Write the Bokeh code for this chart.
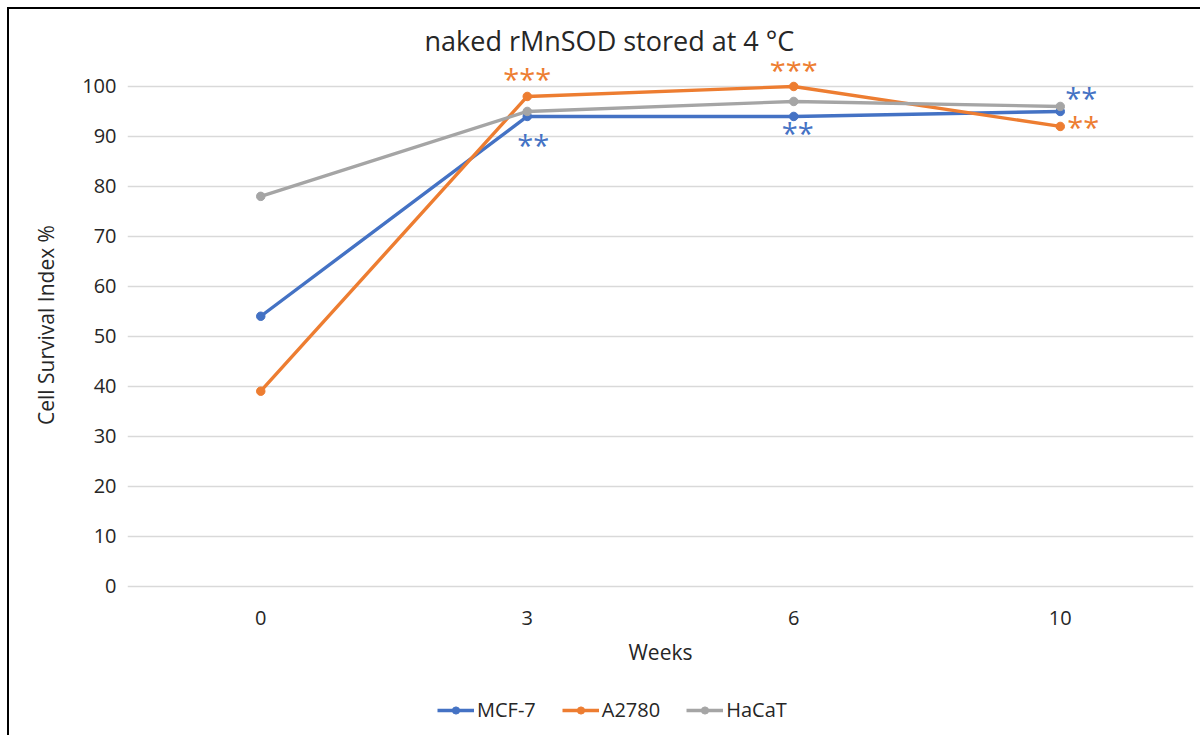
from bokeh.plotting import figure
from bokeh.layouts import column
from bokeh.models import (ColumnDataSource, FactorRange, Range1d, FixedTicker, Legend,
                          LegendItem)
from bokeh.core.properties import value
from bokeh.embed import file_html
from bokeh.resources import INLINE

weeks = ["0", "3", "6", "10"]
mcf7 = [54, 94, 94, 95]
a2780 = [39, 98, 100, 92]
hacat = [78, 95, 97, 96]
series_names = ["MCF-7", "A2780", "HaCaT"]
colors = ["#4472C4", "#ED7D31", "#A5A5A5"]

# significance marks: (week, series index, text)
sig_week = ["3", "6", "3", "6", "10", "10"]
sig_series = [1, 1, 0, 0, 0, 1]
sig_text = ["***", "***", "**", "**", "**", "**"]
y_ticks = [0, 10, 20, 30, 40, 50, 60, 70, 80, 90, 100]

FONT = "Open Sans"
TXT = "#262626"
LW = 3.4
MS = 8.5

p = figure(width=1200, height=690, x_range=FactorRange(*weeks, range_padding=0),
           y_range=Range1d(-0.5, 105), output_backend="svg", toolbar_location=None,
           min_border_left=127, min_border_right=7, min_border_top=61, min_border_bottom=102)
p.outline_line_color = None
p.background_fill_color = "white"
p.border_fill_color = None

p.title.text = "naked rMnSOD stored at 4 \u00b0C"
p.title.align = "left"
p.title.offset = 297
p.title.standoff = 6
p.title.text_font = FONT
p.title.text_font_size = "27px"
p.title.text_font_style = "normal"
p.title.text_color = TXT

p.yaxis.ticker = FixedTicker(ticks=y_ticks)
p.ygrid.ticker = FixedTicker(ticks=y_ticks)
p.ygrid.grid_line_color = "#D9D9D9"
p.ygrid.grid_line_width = 1.5
p.xgrid.grid_line_color = None

for ax in (p.xaxis, p.yaxis):
    ax.axis_line_color = None
    ax.major_tick_line_color = None
    ax.minor_tick_line_color = None
    ax.major_tick_out = 0
    ax.major_tick_in = 0
    ax.minor_tick_out = 0
    ax.major_label_text_font = FONT
    ax.major_label_text_font_size = "20px"
    ax.major_label_text_color = TXT
    ax.axis_label_text_font = FONT
    ax.axis_label_text_font_style = "normal"
    ax.axis_label_text_color = TXT

p.yaxis.axis_label = "Cell Survival Index %"
p.yaxis.axis_label_text_font_size = "21px"
p.yaxis.major_label_standoff = 11
p.yaxis.axis_label_standoff = 19
p.xaxis.axis_label = "Weeks"
p.xaxis.axis_label_text_font_size = "21px"
p.xaxis.major_label_standoff = 22
p.xaxis.axis_label_standoff = 10

all_vals = [mcf7, a2780, hacat]
for vals, c in zip(all_vals, colors):
    src = ColumnDataSource(dict(x=weeks, y=vals))
    p.line("x", "y", source=src, line_color=c, line_width=LW)
    p.scatter("x", "y", source=src, size=MS, fill_color=c, line_color=c)

# significance asterisks anchored to their data points
offsets = [(0, -18), (0, -17), (6, 28), (4, 16), (21, -14), (23, 0)]
for wk, si, t, (dx, dy) in zip(sig_week, sig_series, sig_text, offsets):
    yv = all_vals[si][weeks.index(wk)]
    p.text(x=[wk], y=[yv], text=[t], x_offset=dx, y_offset=dy,
           text_color=colors[si], text_font=value(FONT), text_font_size="29px",
           text_align="center", text_baseline="middle")

# legend strip below the chart (its series lie outside its visible range)
lg = figure(width=1200, height=45, x_range=FactorRange(*weeks), y_range=Range1d(200, 201),
            output_backend="svg", toolbar_location=None, x_axis_type=None, y_axis_type=None,
            min_border=0, min_border_left=0, min_border_right=0,
            min_border_top=0, min_border_bottom=0)
lg.outline_line_color = None
lg.background_fill_color = None
lg.border_fill_color = None
lg.xgrid.grid_line_color = None
lg.ygrid.grid_line_color = None
items = []
for name, vals, c in zip(series_names, all_vals, colors):
    src = ColumnDataSource(dict(x=weeks, y=vals))
    l = lg.line("x", "y", source=src, line_color=c, line_width=LW)
    s = lg.scatter("x", "y", source=src, size=MS, fill_color=c, line_color=c)
    items.append(LegendItem(label=name, renderers=[l, s]))
legend = Legend(items=items, orientation="horizontal", location=(310, 12),
                label_text_font=FONT, label_text_font_size="20px", label_text_color=TXT,
                border_line_color=None, background_fill_alpha=0, margin=0,
                glyph_width=37, glyph_height=18, spacing=26, label_standoff=3, padding=3)
lg.add_layout(legend, "center")

layout = column(p, lg, spacing=0)
layout.styles = {"background": "linear-gradient(#000,#000) 8px 7px / 1192px 2px no-repeat, "
                               "linear-gradient(#000,#000) 7px 7px / 2px 728px no-repeat, #fff"}

open("out.html", "w").write(file_html(layout, INLINE))
